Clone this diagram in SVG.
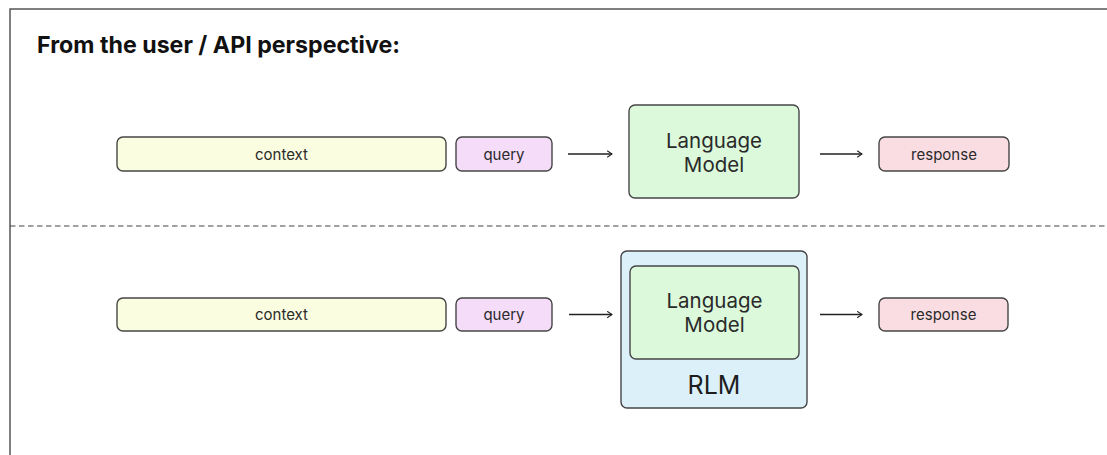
<svg xmlns="http://www.w3.org/2000/svg" width="1107" height="455" viewBox="0 0 1107 455">
<defs>
<style>
.box{stroke:#454545;stroke-width:1.4}
.lbl{font-family:Inter,"Liberation Sans",sans-serif;font-size:15px;fill:#2a2a2a;text-anchor:middle}
.lm{font-family:Inter,"Liberation Sans",sans-serif;font-size:20.5px;fill:#2a2a2a;text-anchor:middle}
.conn{stroke:#222;stroke-width:1.3;fill:none}
</style>
<marker id="arr" viewBox="0 0 10 10" refX="9" refY="5" markerWidth="8" markerHeight="8" markerUnits="userSpaceOnUse" orient="auto">
<path d="M3,1 L9,5 L3,9" fill="none" stroke="#222" stroke-width="1.3"/>
</marker>
</defs>
<rect x="0" y="0" width="1107" height="455" fill="#fff"/>
<path d="M10,455 L10,9 L1107,9" fill="none" stroke="#555" stroke-width="1.5"/>
<text x="37" y="53" font-family="Inter,'Liberation Sans',sans-serif" font-size="23.2" font-weight="bold" fill="#111">From the user / API perspective:</text>
<line x1="10" y1="226" x2="1107" y2="226" stroke="#444" stroke-width="1.2" stroke-dasharray="5.5,3.5"/>

<g id="context1"><rect class="box" x="117" y="137" width="329" height="34" rx="6" fill="#fafde0"/><text class="lbl" x="281.5" y="159.5">context</text></g>
<g id="query1"><rect class="box" x="456" y="137" width="96" height="34" rx="6" fill="#f5dcf9"/><text class="lbl" x="504" y="159.5">query</text></g>
<g id="lm1"><rect class="box" x="629" y="105" width="170" height="93" rx="6" fill="#dcf9dc"/><text class="lm" x="714" y="148">Language</text><text class="lm" x="714" y="172">Model</text></g>
<g id="response1"><rect class="box" x="879" y="137" width="130" height="34" rx="6" fill="#f9dde3"/><text class="lbl" x="944" y="159.5">response</text></g>

<g id="context2"><rect class="box" x="117" y="298" width="329" height="33" rx="6" fill="#fafde0"/><text class="lbl" x="281.5" y="320">context</text></g>
<g id="query2"><rect class="box" x="456" y="298" width="96" height="33" rx="6" fill="#f5dcf9"/><text class="lbl" x="504" y="320">query</text></g>
<g id="rlm"><rect class="box" x="621" y="251" width="186" height="157" rx="6" fill="#dcf0fa"/><text x="714" y="394" font-family="Inter,'Liberation Sans',sans-serif" font-size="25" fill="#1e1e1e" text-anchor="middle">RLM</text></g>
<g id="lm2"><rect class="box" x="630" y="266" width="169" height="93" rx="6" fill="#dcf9dc"/><text class="lm" x="714.5" y="308">Language</text><text class="lm" x="714.5" y="332">Model</text></g>
<g id="response2"><rect class="box" x="879" y="298" width="129" height="33" rx="6" fill="#f9dde3"/><text class="lbl" x="943.5" y="320">response</text></g>

<g id="connectors">
<line class="conn" x1="568" y1="154" x2="612" y2="154" marker-end="url(#arr)"/>
<line class="conn" x1="820" y1="154" x2="862" y2="154" marker-end="url(#arr)"/>
<line class="conn" x1="569" y1="314.5" x2="612" y2="314.5" marker-end="url(#arr)"/>
<line class="conn" x1="820" y1="314.5" x2="862" y2="314.5" marker-end="url(#arr)"/>
</g>
</svg>
